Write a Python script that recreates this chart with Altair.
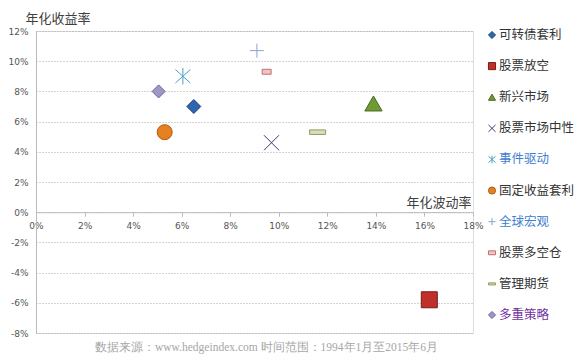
import altair as alt
import pandas as pd

names = ["可转债套利", "股票放空", "新兴市场", "股票市场中性", "事件驱动",
         "固定收益套利", "全球宏观", "股票多空仓", "管理期货", "多重策略"]
vol = [6.5, 16.2, 13.9, 9.7, 6.05, 5.3, 9.1, 9.5, 11.6, 5.05]
ret = [7.0, -5.8, 7.2, 4.6, 9.0, 5.3, 10.7, 9.3, 5.3, 8.0]

x_ticks = list(range(0, 19, 2))
y_ticks = list(range(-8, 13, 2))

fills = ["#2f66b0", "#c0302b", "#6f9a35", "#3c3c6e", "#4aa0c8",
         "#e5821f", "#8aa3cf", "#f0c4c4", "#d9dfbd", "#a195c8"]
strokes = ["#1d4478", "#7a1a16", "#4a6a20", "#3c3c6e", "#4aa0c8",
           "#b05a10", "#8aa3cf", "#c07070", "#8e9a5e", "#6e5f9c"]
widths = [1, 1, 1, 1.4, 1.4, 1, 1.3, 1, 1, 1]
shapes = [
    "diamond",
    "square",
    "triangle-up",
    "M-1,-1L1,1M-1,1L1,-1",
    "M-1,-0.9L1,0.9M-1,0.9L1,-0.9M0,-1.1L0,1.1",
    "circle",
    "M-1,0L1,0M0,-1L0,1",
    "M-1,-0.55L1,-0.55L1,0.55L-1,0.55Z",
    "M-1,-0.28L1,-0.28L1,0.28L-1,0.28Z",
    "diamond",
]
sizes = [196, 256, 300, 225, 225, 225, 196, 81, 256, 169]
label_colors = ["#333333", "#333333", "#333333", "#333333", "#3f80d0",
                "#333333", "#3f80d0", "#333333", "#333333", "#7030a0"]

df = pd.DataFrame({"name": names, "vol": vol, "ret": ret, "sz": sizes})
leg = pd.DataFrame({"name": names, "tc": label_colors})

FONT = "Noto Sans CJK SC"
LAB = "DejaVu Sans"

color_enc = alt.Color("name:N", scale=alt.Scale(domain=names, range=fills), legend=None)
shape_enc = alt.Shape("name:N", scale=alt.Scale(domain=names, range=shapes), legend=None)
stroke_enc = alt.Stroke("name:N", scale=alt.Scale(domain=names, range=strokes), legend=None)
sw_enc = alt.StrokeWidth("name:N", scale=alt.Scale(domain=names, range=widths), legend=None)

points = alt.Chart(df).mark_point(filled=True, opacity=1).encode(
    x=alt.X("vol:Q", scale=alt.Scale(domain=[0, 18], nice=False),
            axis=alt.Axis(values=x_ticks, labelExpr="datum.value + '%'",
                          offset=-120.8, grid=False,
                          title="年化波动率", titleX=435, titleY=-10,
                          titleAlign="right", titleBaseline="middle", titleAngle=0,
                          titleFont=FONT, titleFontSize=13, titleFontWeight="normal",
                          titleColor="#404040",
                          labelFont=LAB, labelFontSize=9, labelColor="#555555",
                          labelPadding=5, tickSize=4, tickColor="#bbbbbb",
                          domainColor="#bbbbbb", labelFlush=False)),
    y=alt.Y("ret:Q", scale=alt.Scale(domain=[-8, 12], nice=False),
            axis=alt.Axis(values=y_ticks, labelExpr="datum.value + '%'",
                          grid=True, gridDash=[1, 2], gridColor="#a8a8a8",
                          ticks=False, labelPadding=8,
                          title="年化收益率", titleX=-11, titleY=-13,
                          titleAlign="left", titleBaseline="middle", titleAngle=0,
                          titleFont=FONT, titleFontSize=13, titleFontWeight="normal",
                          titleColor="#404040",
                          labelFont=LAB, labelFontSize=9, labelColor="#555555",
                          domainColor="#bbbbbb")),
    color=color_enc, shape=shape_enc, stroke=stroke_enc, strokeWidth=sw_enc,
    size=alt.Size("sz:Q", scale=None, legend=None),
)

leg_y = alt.Y("name:N", sort=names, axis=None,
              scale=alt.Scale(type="point", range=[4, 284], padding=0))

leg_sym = alt.Chart(leg).mark_point(filled=True, opacity=1, size=50).encode(
    x=alt.value(456), y=leg_y,
    color=color_enc, shape=shape_enc, stroke=stroke_enc, strokeWidth=sw_enc,
)

leg_txt = alt.Chart(leg).mark_text(align="left", baseline="middle", font=FONT,
                                   fontSize=12.5).encode(
    x=alt.value(463), y=leg_y, text="name:N",
    fill=alt.Fill("tc:N", scale=None, legend=None),
)

legend_layer = alt.layer(leg_sym, leg_txt)

chart = alt.layer(points, legend_layer).resolve_scale(y="independent").properties(
    width=437, height=302,
    autosize=alt.AutoSizeParams(type="none"),
    padding={"left": 36, "top": 31, "right": 110, "bottom": 22},
    title=alt.TitleParams(
        text="数据来源：www.hedgeindex.com  时间范围：1994年1月至2015年6月",
        orient="bottom", anchor="middle", dx=12, offset=4,
        font="Liberation Serif", fontSize=11.5, fontWeight="normal", color="#a6a6a6",
    ),
).configure_view(stroke=None).configure(background="white")

chart.save("out.html", embed_options={"renderer": "svg", "actions": False})
